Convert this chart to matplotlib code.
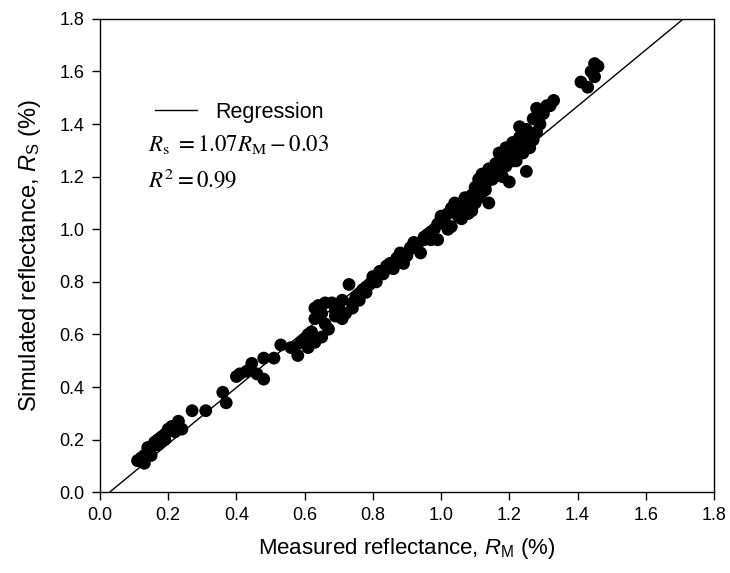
import matplotlib
matplotlib.use('Agg')
import numpy as np
import matplotlib.pyplot as plt

plt.rcParams['font.family'] = 'Liberation Sans'
plt.rcParams['mathtext.fontset'] = 'custom'
plt.rcParams['mathtext.rm'] = 'Liberation Sans'
plt.rcParams['mathtext.it'] = 'Liberation Sans:italic'

# measured vs simulated reflectance (%)
measured = [0.11, 0.12, 0.13, 0.13, 0.14, 0.15, 0.15, 0.16, 0.17, 0.18, 0.19, 0.20, 0.21, 0.22,
            0.23, 0.24, 0.17, 0.19, 0.14, 0.27, 0.31, 0.36, 0.37, 0.40, 0.41, 0.43, 0.445, 0.46,
            0.48, 0.48, 0.51, 0.53, 0.56, 0.58, 0.59, 0.60, 0.61, 0.62, 0.63, 0.63, 0.64, 0.65,
            0.66, 0.65, 0.67, 0.68, 0.69, 0.70, 0.71, 0.72, 0.73, 0.74, 0.75, 0.76, 0.77, 0.78,
            0.79, 0.80, 0.81, 0.82, 0.83, 0.84, 0.85, 0.86, 0.87, 0.88, 0.89, 0.90, 0.91, 0.92,
            0.93, 0.94, 0.95, 0.96, 0.97, 0.98, 0.99, 1.00, 1.01, 1.02, 1.03, 1.03, 1.04, 1.05,
            1.06, 1.07, 1.08, 1.09, 1.10, 1.10, 1.11, 1.12, 1.12, 1.13, 1.14, 1.14, 1.15, 1.16,
            1.16, 1.17, 1.18, 1.18, 1.19, 1.19, 1.20, 1.20, 1.21, 1.22, 1.22, 1.23, 1.23, 1.24,
            1.25, 1.25, 1.26, 1.27, 1.27, 1.28, 1.29, 1.30, 1.31, 1.32, 1.33, 1.41, 1.43, 1.44,
            1.45, 1.46, 1.45, 0.66, 0.69, 0.71, 0.74, 0.76, 0.63, 0.61, 0.57, 0.97, 1.00, 1.05,
            1.08, 1.11, 1.13, 1.15, 1.17, 1.19, 1.21, 1.24, 1.26, 1.28, 0.88, 0.92, 0.95, 0.84,
            0.80, 0.78, 1.06, 1.09, 1.02, 0.99]
simulated = [0.12, 0.13, 0.11, 0.14, 0.15, 0.17, 0.14, 0.19, 0.18, 0.21, 0.22, 0.24, 0.25, 0.23,
             0.27, 0.24, 0.20, 0.20, 0.17, 0.31, 0.31, 0.38, 0.34, 0.44, 0.45, 0.46, 0.49, 0.45,
             0.51, 0.43, 0.51, 0.56, 0.55, 0.52, 0.57, 0.58, 0.55, 0.61, 0.70, 0.66, 0.71, 0.68,
             0.72, 0.59, 0.62, 0.72, 0.67, 0.70, 0.66, 0.68, 0.79, 0.72, 0.74, 0.75, 0.77, 0.78,
             0.79, 0.82, 0.80, 0.84, 0.83, 0.86, 0.87, 0.85, 0.89, 0.91, 0.87, 0.90, 0.93, 0.95,
             0.94, 0.91, 0.97, 0.98, 0.96, 1.00, 1.02, 1.04, 1.03, 1.06, 1.08, 1.01, 1.10, 1.05,
             1.09, 1.12, 1.06, 1.13, 1.16, 1.10, 1.19, 1.14, 1.21, 1.17, 1.23, 1.10, 1.19, 1.25,
             1.22, 1.29, 1.27, 1.20, 1.31, 1.24, 1.28, 1.18, 1.33, 1.30, 1.26, 1.35, 1.39, 1.32,
             1.38, 1.22, 1.36, 1.42, 1.34, 1.46, 1.40, 1.44, 1.47, 1.47, 1.49, 1.56, 1.54, 1.60,
             1.63, 1.62, 1.58, 0.64, 0.69, 0.73, 0.70, 0.73, 0.57, 0.60, 0.55, 0.99, 1.05, 1.08,
             1.10, 1.12, 1.15, 1.20, 1.24, 1.27, 1.26, 1.29, 1.31, 1.37, 0.90, 0.93, 0.96, 0.85,
             0.81, 0.76, 1.04, 1.07, 1.00, 0.96]

slope = 1.07
intercept = -0.03

fig = plt.figure(figsize=(7.3, 5.73), dpi=100)
ax = fig.add_axes([0.137, 0.141, 0.841, 0.826])

ax.scatter(measured, simulated, s=85, color='black', edgecolors='none', zorder=3)

# regression line clipped to the axes box
x_start = -intercept / slope
x_end = (1.8 - intercept) / slope
xs = np.array([x_start, x_end])
ax.plot(xs, slope * xs + intercept, color='black', lw=1.0, label='Regression', zorder=2)

ax.set_xlim(0, 1.8)
ax.set_ylim(0, 1.8)
ticks = np.arange(0, 1.81, 0.2)
ax.set_xticks(ticks)
ax.set_yticks(ticks)
ax.set_xticklabels([f'{t:.1f}' for t in ticks])
ax.set_yticklabels([f'{t:.1f}' for t in ticks])
ax.tick_params(direction='out', length=6, width=1, labelsize=13, pad=5, top=False, right=False)
for sp in ax.spines.values():
    sp.set_linewidth(1.0)

ax.set_xlabel(r'Measured reflectance, $\it{R}_{\rm M}$ (%)', fontsize=16, labelpad=8)
ax.set_ylabel(r'Simulated reflectance, $\it{R}_{\rm S}$ (%)', fontsize=17, labelpad=12)

ax.legend(loc='center left', bbox_to_anchor=(0.09, 0.803), frameon=False, fontsize=15.5,
          borderpad=0, borderaxespad=0, handlelength=1.95, handletextpad=0.85)

ax.text(0.078, 0.735, r'$R_{\rm s}\ = 1.07R_{\rm M} - 0.03$', transform=ax.transAxes,
        fontsize=16.5, math_fontfamily='stix', va='center')
ax.text(0.078, 0.66, r'$R^2 = 0.99$', transform=ax.transAxes,
        fontsize=16.5, math_fontfamily='stix', va='center')

fig.savefig('out.png', dpi=100)
